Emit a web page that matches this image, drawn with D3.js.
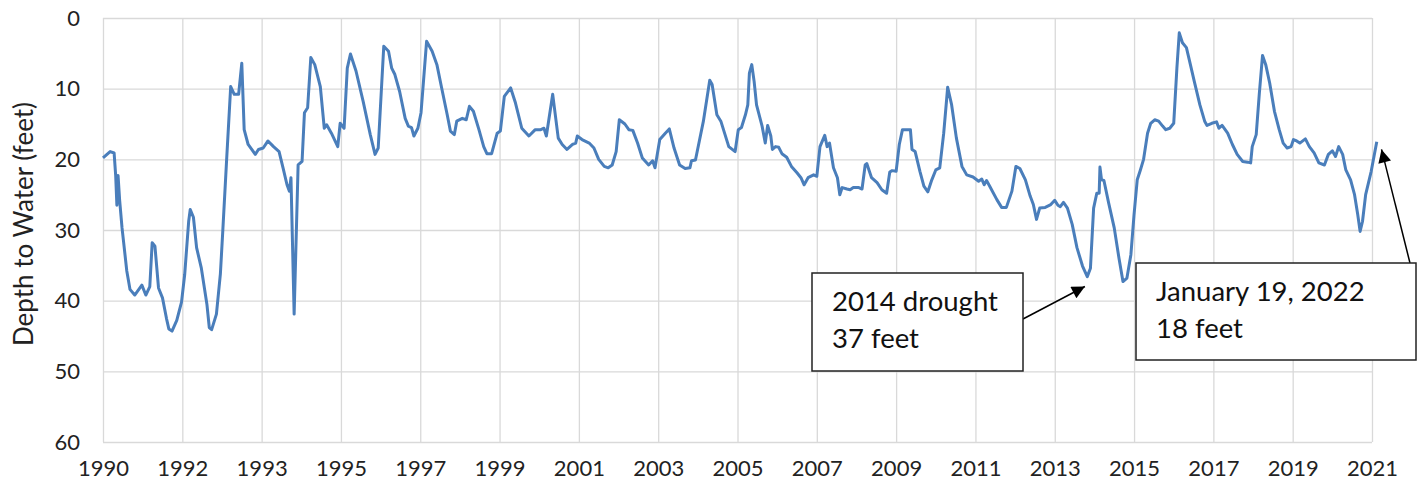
<!DOCTYPE html>
<html>
<head>
<meta charset="utf-8">
<script src="https://cdn.jsdelivr.net/npm/d3@7"></script>
<style>
  html, body { margin: 0; padding: 0; background: #fff; }
  svg { display: block; font-family: Lato, "Liberation Sans", sans-serif; }
</style>
</head>
<body>
<svg id="chart" width="1424" height="486"></svg>
<script>
// Category axis labels (Excel-style, one every N samples)
const yearLabels = ["1990", "1992", "1993", "1995", "1997", "1999", "2001", "2003", "2005",
  "2007", "2009", "2011", "2013", "2015", "2017", "2019", "2021"];

const depthTicks = [0, 10, 20, 30, 40, 50, 60];

// Position along the category axis, in label-interval units
const xPos = [
  0.00, 0.09, 0.14, 0.16, 0.175, 0.19, 0.21, 0.24, 0.30, 0.34, 0.40, 0.49, 0.54, 0.59, 0.62, 0.655,
  0.70, 0.75, 0.80, 0.83, 0.87, 0.93, 0.99, 1.03, 1.08, 1.10, 1.14, 1.18, 1.24, 1.31, 1.34, 1.37,
  1.43, 1.48, 1.51, 1.56, 1.61, 1.655, 1.71, 1.75, 1.78, 1.83, 1.92, 1.96, 2.02, 2.08, 2.15, 2.22,
  2.27, 2.32, 2.35, 2.37, 2.41, 2.46, 2.51, 2.54, 2.58, 2.62, 2.67, 2.74, 2.79, 2.82, 2.88, 2.96,
  2.99, 3.04, 3.08, 3.12, 3.19, 3.28, 3.37, 3.43, 3.47, 3.54, 3.60, 3.64, 3.68, 3.74, 3.81, 3.85,
  3.89, 3.92, 3.97, 4.01, 4.08, 4.15, 4.21, 4.27, 4.34, 4.38, 4.43, 4.46, 4.53, 4.58, 4.62, 4.67,
  4.74, 4.80, 4.84, 4.90, 4.97, 5.01, 5.06, 5.14, 5.20, 5.28, 5.37, 5.45, 5.52, 5.56, 5.59, 5.67,
  5.74, 5.79, 5.85, 5.92, 5.96, 5.98, 6.04, 6.13, 6.19, 6.25, 6.32, 6.37, 6.42, 6.47, 6.51, 6.58,
  6.63, 6.68, 6.74, 6.80, 6.88, 6.93, 6.96, 7.02, 7.09, 7.14, 7.20, 7.27, 7.34, 7.40, 7.42, 7.47,
  7.57, 7.65, 7.68, 7.74, 7.79, 7.89, 7.97, 8.01, 8.05, 8.10, 8.13, 8.15, 8.18, 8.21, 8.24, 8.31,
  8.35, 8.38, 8.42, 8.44, 8.48, 8.52, 8.56, 8.62, 8.68, 8.75, 8.80, 8.84, 8.89, 8.96, 9.00, 9.04,
  9.10, 9.13, 9.16, 9.21, 9.26, 9.29, 9.32, 9.38, 9.42, 9.46, 9.53, 9.57, 9.61, 9.63, 9.69, 9.76,
  9.82, 9.88, 9.92, 9.95, 10.00, 10.04, 10.08, 10.18, 10.20, 10.24, 10.30, 10.35, 10.40, 10.45, 10.50, 10.55,
  10.60, 10.65, 10.70, 10.76, 10.83, 10.89, 10.97, 11.04, 11.08, 11.11, 11.14, 11.18, 11.27, 11.33, 11.39, 11.46,
  11.51, 11.56, 11.63, 11.69, 11.73, 11.77, 11.81, 11.88, 11.95, 12.00, 12.04, 12.07, 12.11, 12.16, 12.22, 12.28,
  12.35, 12.41, 12.45, 12.49, 12.53, 12.56, 12.57, 12.59, 12.62, 12.68, 12.75, 12.81, 12.86, 12.91, 12.96, 13.00,
  13.04, 13.08, 13.12, 13.17, 13.21, 13.26, 13.31, 13.36, 13.40, 13.45, 13.50, 13.54, 13.57, 13.61, 13.66, 13.70,
  13.76, 13.83, 13.89, 13.92, 13.98, 14.04, 14.07, 14.11, 14.18, 14.24, 14.30, 14.37, 14.43, 14.47, 14.49, 14.54,
  14.58, 14.62, 14.66, 14.71, 14.77, 14.83, 14.88, 14.93, 14.98, 15.01, 15.05, 15.09, 15.16, 15.21, 15.27, 15.33,
  15.40, 15.45, 15.50, 15.54, 15.58, 15.63, 15.67, 15.73, 15.78, 15.82, 15.85, 15.88, 15.92, 15.99, 16.06
];

// Depth to water (feet)
const depth = [
  19.8, 18.9, 19.1, 22.3, 26.5, 22.3, 25.8, 29.7, 35.8, 38.4, 39.2, 37.8, 39.2, 38.0, 31.8, 32.3,
  38.2, 39.6, 42.5, 44.0, 44.3, 42.8, 40.2, 36.3, 28.8, 27.1, 28.2, 32.5, 35.4, 40.5, 43.8, 44.1,
  41.9, 36.2, 30.2, 19.8, 9.7, 10.8, 10.8, 6.4, 15.8, 17.9, 19.3, 18.6, 18.4, 17.4, 18.2, 18.9,
  21.2, 23.6, 24.5, 22.6, 41.9, 20.8, 20.3, 13.4, 12.7, 5.6, 6.6, 9.7, 15.6, 15.1, 16.3, 18.2,
  14.9, 15.6, 7.1, 5.1, 7.5, 11.8, 16.5, 19.3, 18.4, 4.0, 4.7, 7.1, 8.0, 10.4, 14.2, 15.3,
  15.5, 16.7, 15.6, 13.4, 3.3, 4.7, 6.6, 9.9, 13.7, 16.0, 16.5, 14.6, 14.2, 14.4, 12.5, 13.2,
  15.8, 18.2, 19.2, 19.2, 16.3, 16.0, 11.1, 9.9, 12.0, 15.6, 16.7, 15.8, 15.8, 15.6, 16.7, 10.8,
  17.0, 17.9, 18.6, 17.9, 17.7, 16.7, 17.2, 17.7, 18.4, 20.0, 21.0, 21.2, 20.8, 18.9, 14.4, 15.0,
  15.8, 15.9, 17.7, 19.8, 20.8, 20.2, 21.2, 17.2, 16.3, 15.7, 18.4, 20.8, 21.3, 21.2, 20.2, 20.1,
  14.6, 8.8, 9.4, 13.7, 14.6, 18.2, 18.9, 15.8, 15.5, 13.7, 12.3, 7.8, 6.6, 9.0, 12.3, 15.3,
  17.7, 15.2, 16.7, 18.6, 18.2, 18.3, 19.2, 19.7, 21.0, 21.9, 22.6, 23.6, 22.6, 22.2, 22.4, 18.2,
  16.6, 18.2, 17.7, 21.2, 22.6, 25.0, 24.0, 24.2, 24.3, 24.0, 24.0, 24.2, 20.8, 20.6, 22.6, 23.3,
  24.3, 24.8, 21.8, 21.6, 21.7, 17.9, 15.8, 15.8, 18.6, 18.9, 21.7, 23.8, 24.6, 22.9, 21.5, 21.2,
  16.3, 9.8, 12.3, 17.0, 21.0, 22.2, 22.5, 23.1, 22.8, 23.6, 23.0, 23.8, 25.7, 26.8, 26.8, 24.5,
  21.0, 21.3, 22.9, 25.2, 26.4, 28.5, 26.9, 26.8, 26.4, 25.8, 26.5, 26.7, 26.1, 26.9, 29.2, 32.5,
  35.1, 36.6, 35.4, 26.9, 24.8, 24.8, 21.1, 22.9, 23.0, 26.2, 29.7, 34.0, 37.3, 36.8, 33.5, 27.8,
  22.9, 21.5, 20.0, 16.3, 14.9, 14.4, 14.6, 15.3, 15.8, 15.6, 14.9, 7.1, 2.1, 3.5, 4.2, 6.1,
  9.0, 12.3, 14.6, 15.2, 14.9, 14.7, 15.6, 15.2, 16.3, 17.9, 19.3, 20.3, 20.4, 20.5, 18.2, 16.5,
  10.6, 5.3, 6.6, 9.2, 13.2, 15.8, 17.7, 18.4, 18.2, 17.2, 17.4, 17.7, 17.1, 18.2, 19.1, 20.5,
  20.8, 19.3, 18.8, 19.6, 18.2, 19.3, 21.5, 22.9, 25.0, 27.8, 30.2, 28.8, 25.0, 21.7, 17.5
];

// Callouts: text lines, box (px), and the data point the arrow points at
const notes = [
  { lines: ["2014 drought", "37 feet"], box: [812, 273, 211, 98], from: [1023, 319], at: [12.38, 38.0] },
  { lines: ["January 19, 2022", "18 feet"], box: [1136, 263, 280, 97], from: [1410, 263], at: [16.12, 18.6] }
];

const svg = d3.select("#chart");
const W = 1424, H = 486;
const margin = { top: 18, right: 52, bottom: 44, left: 103 };
const innerW = W - margin.left - margin.right;
const innerH = H - margin.top - margin.bottom;

const x = d3.scaleLinear().domain([0, yearLabels.length - 1]).range([margin.left, margin.left + innerW]);
const y = d3.scaleLinear().domain([0, 60]).range([margin.top, margin.top + innerH]);

// Horizontal gridlines + y labels
const yAxis = svg.append("g")
  .attr("transform", `translate(${margin.left},0)`)
  .call(d3.axisLeft(y).tickValues(depthTicks).tickSize(-innerW).tickPadding(23));
yAxis.select(".domain").remove();
yAxis.selectAll(".tick line").attr("stroke", "#d9d9d9").attr("stroke-width", 1.3);
yAxis.selectAll(".tick text")
  .attr("fill", "#222").attr("font-size", "22px").attr("font-family", "Lato, sans-serif");

// Vertical gridlines + category labels
const xAxis = svg.append("g")
  .attr("transform", `translate(0,${margin.top + innerH})`)
  .call(d3.axisBottom(x).tickValues(d3.range(yearLabels.length))
    .tickFormat(i => yearLabels[i]).tickSize(-innerH).tickPadding(18));
xAxis.select(".domain").remove();
xAxis.selectAll(".tick line").attr("stroke", "#d9d9d9").attr("stroke-width", 1.3);
xAxis.selectAll(".tick text")
  .attr("fill", "#222").attr("font-size", "22px").attr("font-family", "Lato, sans-serif");

// Axis title
svg.append("text")
  .attr("transform", `translate(33,${224}) rotate(-90)`)
  .attr("text-anchor", "middle")
  .attr("fill", "#222")
  .attr("font-size", "26px")
  .text("Depth to Water (feet)");

// Series
const series = xPos.map((p, i) => ({ p, d: depth[i] }));
const line = d3.line().x(d => x(d.p)).y(d => y(d.d));

svg.append("path")
  .datum(series)
  .attr("fill", "none")
  .attr("stroke", "#4a7ebb")
  .attr("stroke-width", 3)
  .attr("stroke-linejoin", "round")
  .attr("d", line);

// Arrow marker
svg.append("defs").append("marker")
  .attr("id", "arrow")
  .attr("viewBox", "0 0 10 10")
  .attr("refX", 10).attr("refY", 5)
  .attr("markerWidth", 15).attr("markerHeight", 13)
  .attr("markerUnits", "userSpaceOnUse")
  .attr("orient", "auto")
  .append("path").attr("d", "M0,0 L10,5 L0,10 Z").attr("fill", "#000");

// Callouts
notes.forEach(n => {
  const g = svg.append("g");
  const [bx, by, bw, bh] = n.box;

  g.append("line")
    .attr("x1", n.from[0]).attr("y1", n.from[1])
    .attr("x2", x(n.at[0])).attr("y2", y(n.at[1]))
    .attr("stroke", "#000").attr("stroke-width", 1.5)
    .attr("marker-end", "url(#arrow)");

  g.append("rect")
    .attr("x", bx).attr("y", by).attr("width", bw).attr("height", bh)
    .attr("fill", "#fff").attr("stroke", "#222").attr("stroke-width", 1.5);

  n.lines.forEach((t, i) => {
    g.append("text")
      .attr("x", bx + 20)
      .attr("y", by + 38 + i * 37)
      .attr("fill", "#111")
      .attr("font-size", "27.5px")
      .text(t);
  });
});
</script>
</body>
</html>
